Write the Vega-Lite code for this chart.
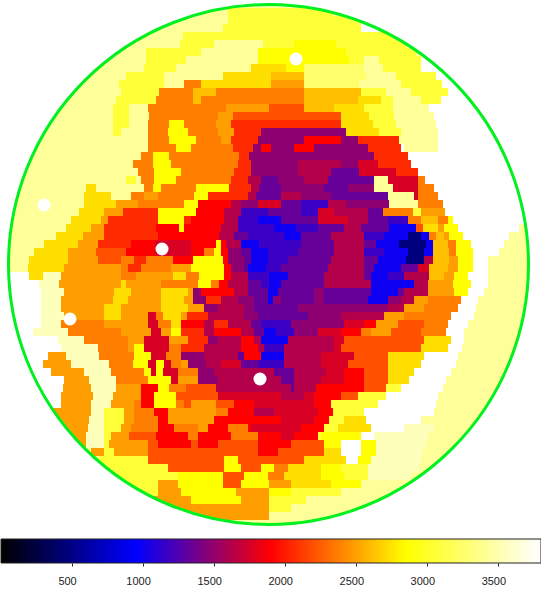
{"$schema":"https://vega.github.io/schema/vega-lite/v6.json","padding":0,"autosize":{"type":"pad"},"spacing":0,"background":"white","config":{"view":{"stroke":null}},
"datasets":{"disc":[{"x":267.5,"y":264.5,"v":3420}],
"holes":[{"x":43,"y":205},{"x":69,"y":319},{"x":161,"y":249},{"x":259,"y":379},{"x":295,"y":59}],
"cells":[
{"y":12,"x":227,"x2":332,"v":3060},
{"y":20,"x":227,"x2":358,"v":3060},
{"y":28,"x":222,"x2":360,"v":3060},{"y":28,"x":360,"x2":378,"v":3800},
{"y":36,"x":182,"x2":392,"v":3060},
{"y":44,"x":179,"x2":213,"v":3060},{"y":44,"x":262,"x2":293,"v":3060},{"y":44,"x":293,"x2":335,"v":2850},{"y":44,"x":335,"x2":405,"v":3060},
{"y":52,"x":145,"x2":200,"v":3060},{"y":52,"x":257,"x2":345,"v":2850},{"y":52,"x":345,"x2":415,"v":3060},
{"y":60,"x":145,"x2":185,"v":3060},{"y":60,"x":257,"x2":348,"v":2850},{"y":60,"x":348,"x2":363,"v":3060},{"y":60,"x":378,"x2":420,"v":3060},{"y":60,"x":420,"x2":440,"v":3800},
{"y":68,"x":143,"x2":175,"v":3060},{"y":68,"x":250,"x2":285,"v":2730},{"y":68,"x":285,"x2":303,"v":2850},{"y":68,"x":303,"x2":363,"v":3250},{"y":68,"x":382,"x2":420,"v":3060},{"y":68,"x":420,"x2":445,"v":3800},
{"y":76,"x":125,"x2":163,"v":3060},{"y":76,"x":222,"x2":270,"v":2730},{"y":76,"x":270,"x2":303,"v":2610},{"y":76,"x":303,"x2":365,"v":3250},{"y":76,"x":395,"x2":435,"v":3060},{"y":76,"x":435,"x2":455,"v":3800},
{"y":84,"x":118,"x2":163,"v":3060},{"y":84,"x":183,"x2":200,"v":2370},{"y":84,"x":200,"x2":270,"v":2730},{"y":84,"x":270,"x2":303,"v":2490},{"y":84,"x":303,"x2":358,"v":3250},{"y":84,"x":400,"x2":441,"v":3060},{"y":84,"x":441,"x2":465,"v":3800},
{"y":92,"x":120,"x2":158,"v":3060},{"y":92,"x":158,"x2":192,"v":2370},{"y":92,"x":192,"x2":215,"v":2610},{"y":92,"x":215,"x2":303,"v":2370},{"y":92,"x":303,"x2":360,"v":2610},{"y":92,"x":360,"x2":385,"v":3060},{"y":92,"x":410,"x2":447,"v":3060},{"y":92,"x":447,"x2":475,"v":3800},
{"y":100,"x":115,"x2":155,"v":3060},{"y":100,"x":155,"x2":192,"v":2370},{"y":100,"x":192,"x2":200,"v":2610},{"y":100,"x":200,"x2":303,"v":2370},{"y":100,"x":303,"x2":357,"v":2610},{"y":100,"x":357,"x2":380,"v":2730},{"y":100,"x":380,"x2":392,"v":3060},{"y":100,"x":420,"x2":440,"v":3060},{"y":100,"x":440,"x2":480,"v":3800},
{"y":108,"x":112,"x2":128,"v":3060},{"y":108,"x":147,"x2":225,"v":2370},{"y":108,"x":225,"x2":268,"v":2490},{"y":108,"x":268,"x2":303,"v":2200},{"y":108,"x":303,"x2":333,"v":2610},{"y":108,"x":333,"x2":363,"v":2730},{"y":108,"x":363,"x2":392,"v":3060},{"y":108,"x":428,"x2":485,"v":3800},
{"y":116,"x":112,"x2":128,"v":3060},{"y":116,"x":148,"x2":217,"v":2370},{"y":116,"x":217,"x2":232,"v":2490},{"y":116,"x":232,"x2":340,"v":2200},{"y":116,"x":340,"x2":368,"v":2730},{"y":116,"x":368,"x2":393,"v":3060},{"y":116,"x":433,"x2":490,"v":3800},
{"y":124,"x":112,"x2":128,"v":3060},{"y":124,"x":147,"x2":168,"v":2370},{"y":124,"x":168,"x2":183,"v":2850},{"y":124,"x":183,"x2":215,"v":2370},{"y":124,"x":215,"x2":230,"v":2490},{"y":124,"x":230,"x2":340,"v":2060},{"y":124,"x":340,"x2":372,"v":2730},{"y":124,"x":372,"x2":395,"v":3060},{"y":124,"x":435,"x2":495,"v":3800},
{"y":132,"x":112,"x2":120,"v":3060},{"y":132,"x":147,"x2":167,"v":2370},{"y":132,"x":167,"x2":187,"v":2850},{"y":132,"x":187,"x2":217,"v":2370},{"y":132,"x":217,"x2":233,"v":2490},{"y":132,"x":233,"x2":260,"v":2060},{"y":132,"x":260,"x2":345,"v":1480},{"y":132,"x":345,"x2":378,"v":2730},{"y":132,"x":378,"x2":400,"v":3060},{"y":132,"x":437,"x2":500,"v":3800},
{"y":140,"x":147,"x2":168,"v":2370},{"y":140,"x":168,"x2":195,"v":2850},{"y":140,"x":195,"x2":220,"v":2370},{"y":140,"x":220,"x2":230,"v":2490},{"y":140,"x":230,"x2":257,"v":2060},{"y":140,"x":257,"x2":303,"v":1480},{"y":140,"x":303,"x2":340,"v":1900},{"y":140,"x":340,"x2":357,"v":1480},{"y":140,"x":357,"x2":398,"v":2060},{"y":140,"x":437,"x2":505,"v":3800},
{"y":148,"x":147,"x2":175,"v":2370},{"y":148,"x":175,"x2":190,"v":2850},{"y":148,"x":190,"x2":232,"v":2370},{"y":148,"x":232,"x2":252,"v":2060},{"y":148,"x":252,"x2":260,"v":1480},{"y":148,"x":260,"x2":270,"v":1900},{"y":148,"x":270,"x2":293,"v":1480},{"y":148,"x":293,"x2":313,"v":1900},{"y":148,"x":313,"x2":367,"v":1480},{"y":148,"x":367,"x2":400,"v":2060},{"y":148,"x":400,"x2":403,"v":3800},{"y":148,"x":437,"x2":510,"v":3800},
{"y":156,"x":140,"x2":152,"v":2370},{"y":156,"x":152,"x2":168,"v":2850},{"y":156,"x":168,"x2":238,"v":2370},{"y":156,"x":238,"x2":248,"v":2060},{"y":156,"x":248,"x2":373,"v":1480},{"y":156,"x":373,"x2":407,"v":2060},{"y":156,"x":407,"x2":510,"v":3800},
{"y":164,"x":132,"x2":152,"v":2370},{"y":164,"x":152,"x2":170,"v":2850},{"y":164,"x":170,"x2":237,"v":2370},{"y":164,"x":237,"x2":250,"v":2060},{"y":164,"x":250,"x2":297,"v":1480},{"y":164,"x":297,"x2":340,"v":1620},{"y":164,"x":340,"x2":357,"v":1480},{"y":164,"x":357,"x2":377,"v":1760},{"y":164,"x":377,"x2":410,"v":2060},{"y":164,"x":410,"x2":515,"v":3800},
{"y":172,"x":137,"x2":153,"v":2370},{"y":172,"x":153,"x2":180,"v":2850},{"y":172,"x":180,"x2":233,"v":2370},{"y":172,"x":233,"x2":250,"v":2060},{"y":172,"x":250,"x2":297,"v":1480},{"y":172,"x":297,"x2":330,"v":1620},{"y":172,"x":330,"x2":358,"v":1330},{"y":172,"x":358,"x2":395,"v":1760},{"y":172,"x":395,"x2":417,"v":2060},{"y":172,"x":417,"x2":518,"v":3800},
{"y":180,"x":125,"x2":135,"v":3060},{"y":180,"x":140,"x2":153,"v":2370},{"y":180,"x":153,"x2":175,"v":2850},{"y":180,"x":175,"x2":230,"v":2370},{"y":180,"x":230,"x2":247,"v":2060},{"y":180,"x":247,"x2":260,"v":1620},{"y":180,"x":260,"x2":277,"v":1330},{"y":180,"x":277,"x2":303,"v":1480},{"y":180,"x":303,"x2":327,"v":1620},{"y":180,"x":327,"x2":373,"v":1330},{"y":180,"x":387,"x2":417,"v":1760},{"y":180,"x":417,"x2":424,"v":2370},{"y":180,"x":424,"x2":520,"v":3800},
{"y":188,"x":85,"x2":95,"v":2730},{"y":188,"x":143,"x2":152,"v":2370},{"y":188,"x":152,"x2":160,"v":2850},{"y":188,"x":160,"x2":195,"v":2370},{"y":188,"x":195,"x2":228,"v":2850},{"y":188,"x":228,"x2":250,"v":2060},{"y":188,"x":250,"x2":258,"v":1620},{"y":188,"x":258,"x2":280,"v":1330},{"y":188,"x":280,"x2":323,"v":1480},{"y":188,"x":323,"x2":347,"v":1330},{"y":188,"x":347,"x2":373,"v":1480},{"y":188,"x":392,"x2":417,"v":1760},{"y":188,"x":417,"x2":433,"v":2370},{"y":188,"x":433,"x2":522,"v":3800},
{"y":196,"x":83,"x2":110,"v":2730},{"y":196,"x":130,"x2":143,"v":2370},{"y":196,"x":143,"x2":157,"v":2490},{"y":196,"x":157,"x2":193,"v":2370},{"y":196,"x":193,"x2":207,"v":2850},{"y":196,"x":207,"x2":247,"v":2060},{"y":196,"x":247,"x2":255,"v":1620},{"y":196,"x":255,"x2":280,"v":1330},{"y":196,"x":280,"x2":300,"v":1620},{"y":196,"x":300,"x2":330,"v":1480},{"y":196,"x":330,"x2":387,"v":1330},{"y":196,"x":413,"x2":417,"v":1760},{"y":196,"x":417,"x2":437,"v":2370},{"y":196,"x":437,"x2":525,"v":3800},
{"y":204,"x":83,"x2":115,"v":2730},{"y":204,"x":115,"x2":137,"v":2490},{"y":204,"x":137,"x2":183,"v":2370},{"y":204,"x":183,"x2":197,"v":2850},{"y":204,"x":197,"x2":230,"v":1900},{"y":204,"x":230,"x2":240,"v":1620},{"y":204,"x":240,"x2":257,"v":1480},{"y":204,"x":257,"x2":280,"v":1760},{"y":204,"x":280,"x2":300,"v":1330},{"y":204,"x":300,"x2":327,"v":1170},{"y":204,"x":327,"x2":345,"v":1620},{"y":204,"x":345,"x2":388,"v":1480},{"y":204,"x":417,"x2":442,"v":2370},{"y":204,"x":442,"x2":525,"v":3800},
{"y":212,"x":78,"x2":103,"v":2730},{"y":212,"x":103,"x2":122,"v":2490},{"y":212,"x":122,"x2":157,"v":2060},{"y":212,"x":157,"x2":195,"v":2850},{"y":212,"x":195,"x2":223,"v":1900},{"y":212,"x":223,"x2":240,"v":1620},{"y":212,"x":240,"x2":267,"v":1170},{"y":212,"x":267,"x2":300,"v":1330},{"y":212,"x":300,"x2":317,"v":1170},{"y":212,"x":317,"x2":333,"v":1760},{"y":212,"x":333,"x2":367,"v":1620},{"y":212,"x":367,"x2":382,"v":1330},{"y":212,"x":382,"x2":412,"v":2370},{"y":212,"x":412,"x2":420,"v":3060},{"y":212,"x":420,"x2":444,"v":2490},{"y":212,"x":444,"x2":525,"v":3800},
{"y":220,"x":70,"x2":100,"v":2730},{"y":220,"x":100,"x2":107,"v":2490},{"y":220,"x":107,"x2":157,"v":2060},{"y":220,"x":157,"x2":183,"v":2850},{"y":220,"x":183,"x2":190,"v":2060},{"y":220,"x":190,"x2":223,"v":1900},{"y":220,"x":223,"x2":237,"v":1620},{"y":220,"x":237,"x2":257,"v":1170},{"y":220,"x":257,"x2":280,"v":1000},{"y":220,"x":280,"x2":317,"v":1330},{"y":220,"x":317,"x2":347,"v":1760},{"y":220,"x":347,"x2":367,"v":1620},{"y":220,"x":367,"x2":387,"v":1330},{"y":220,"x":387,"x2":407,"v":1170},{"y":220,"x":407,"x2":420,"v":2370},{"y":220,"x":420,"x2":437,"v":2610},{"y":220,"x":437,"x2":447,"v":2370},{"y":220,"x":447,"x2":452,"v":2850},{"y":220,"x":452,"x2":528,"v":3800},
{"y":228,"x":65,"x2":90,"v":2730},{"y":228,"x":90,"x2":103,"v":2490},{"y":228,"x":103,"x2":155,"v":2060},{"y":228,"x":155,"x2":178,"v":1900},{"y":228,"x":178,"x2":183,"v":2850},{"y":228,"x":183,"x2":220,"v":1900},{"y":228,"x":220,"x2":237,"v":1620},{"y":228,"x":237,"x2":273,"v":1170},{"y":228,"x":273,"x2":295,"v":1000},{"y":228,"x":295,"x2":317,"v":1170},{"y":228,"x":317,"x2":343,"v":1330},{"y":228,"x":343,"x2":360,"v":1620},{"y":228,"x":360,"x2":388,"v":1330},{"y":228,"x":388,"x2":415,"v":1000},{"y":228,"x":415,"x2":422,"v":2200},{"y":228,"x":422,"x2":437,"v":2730},{"y":228,"x":437,"x2":443,"v":2490},{"y":228,"x":443,"x2":457,"v":2850},{"y":228,"x":457,"x2":518,"v":3800},
{"y":236,"x":55,"x2":82,"v":2730},{"y":236,"x":82,"x2":103,"v":2490},{"y":236,"x":103,"x2":157,"v":2060},{"y":236,"x":157,"x2":218,"v":1900},{"y":236,"x":218,"x2":233,"v":1620},{"y":236,"x":233,"x2":247,"v":1330},{"y":236,"x":247,"x2":283,"v":1170},{"y":236,"x":283,"x2":300,"v":1000},{"y":236,"x":300,"x2":330,"v":1330},{"y":236,"x":330,"x2":363,"v":1620},{"y":236,"x":363,"x2":383,"v":1170},{"y":236,"x":383,"x2":407,"v":1000},{"y":236,"x":407,"x2":420,"v":470},{"y":236,"x":420,"x2":428,"v":1000},{"y":236,"x":428,"x2":435,"v":2370},{"y":236,"x":435,"x2":443,"v":2610},{"y":236,"x":443,"x2":448,"v":2490},{"y":236,"x":448,"x2":462,"v":2850},{"y":236,"x":462,"x2":508,"v":3800},
{"y":244,"x":43,"x2":77,"v":2730},{"y":244,"x":77,"x2":97,"v":2490},{"y":244,"x":97,"x2":130,"v":2060},{"y":244,"x":130,"x2":154,"v":1900},{"y":244,"x":154,"x2":190,"v":1760},{"y":244,"x":190,"x2":215,"v":1900},{"y":244,"x":215,"x2":220,"v":2850},{"y":244,"x":220,"x2":225,"v":1900},{"y":244,"x":225,"x2":240,"v":1620},{"y":244,"x":240,"x2":258,"v":1000},{"y":244,"x":258,"x2":300,"v":1170},{"y":244,"x":300,"x2":333,"v":1330},{"y":244,"x":333,"x2":363,"v":1620},{"y":244,"x":363,"x2":375,"v":1330},{"y":244,"x":375,"x2":398,"v":1000},{"y":244,"x":398,"x2":425,"v":470},{"y":244,"x":425,"x2":432,"v":1000},{"y":244,"x":432,"x2":447,"v":2610},{"y":244,"x":447,"x2":455,"v":2370},{"y":244,"x":455,"x2":470,"v":2850},{"y":244,"x":470,"x2":503,"v":3800},
{"y":252,"x":33,"x2":67,"v":2730},{"y":252,"x":67,"x2":95,"v":2490},{"y":252,"x":95,"x2":125,"v":2200},{"y":252,"x":125,"x2":154,"v":1900},{"y":252,"x":154,"x2":190,"v":1760},{"y":252,"x":190,"x2":203,"v":1900},{"y":252,"x":203,"x2":213,"v":2370},{"y":252,"x":213,"x2":220,"v":2850},{"y":252,"x":220,"x2":227,"v":1900},{"y":252,"x":227,"x2":240,"v":1480},{"y":252,"x":240,"x2":250,"v":1330},{"y":252,"x":250,"x2":267,"v":1000},{"y":252,"x":267,"x2":297,"v":1170},{"y":252,"x":297,"x2":333,"v":1330},{"y":252,"x":333,"x2":363,"v":1620},{"y":252,"x":363,"x2":383,"v":1170},{"y":252,"x":383,"x2":407,"v":1000},{"y":252,"x":407,"x2":423,"v":470},{"y":252,"x":423,"x2":432,"v":1000},{"y":252,"x":432,"x2":448,"v":2610},{"y":252,"x":448,"x2":455,"v":2370},{"y":252,"x":455,"x2":472,"v":2850},{"y":252,"x":472,"x2":498,"v":3800},
{"y":260,"x":28,"x2":67,"v":2730},{"y":260,"x":67,"x2":97,"v":2490},{"y":260,"x":97,"x2":120,"v":2200},{"y":260,"x":120,"x2":133,"v":2370},{"y":260,"x":133,"x2":145,"v":2060},{"y":260,"x":145,"x2":172,"v":2370},{"y":260,"x":172,"x2":192,"v":1900},{"y":260,"x":192,"x2":222,"v":2850},{"y":260,"x":222,"x2":227,"v":1900},{"y":260,"x":227,"x2":243,"v":1480},{"y":260,"x":243,"x2":250,"v":1330},{"y":260,"x":250,"x2":267,"v":1000},{"y":260,"x":267,"x2":287,"v":1170},{"y":260,"x":287,"x2":330,"v":1330},{"y":260,"x":330,"x2":363,"v":1620},{"y":260,"x":363,"x2":377,"v":1330},{"y":260,"x":377,"x2":405,"v":1000},{"y":260,"x":405,"x2":423,"v":470},{"y":260,"x":423,"x2":432,"v":1620},{"y":260,"x":432,"x2":448,"v":2610},{"y":260,"x":448,"x2":457,"v":2490},{"y":260,"x":457,"x2":472,"v":2850},{"y":260,"x":472,"x2":487,"v":3800},
{"y":268,"x":27,"x2":63,"v":2730},{"y":268,"x":63,"x2":120,"v":2490},{"y":268,"x":120,"x2":127,"v":2370},{"y":268,"x":127,"x2":140,"v":2060},{"y":268,"x":140,"x2":170,"v":2370},{"y":268,"x":170,"x2":190,"v":2490},{"y":268,"x":190,"x2":223,"v":2850},{"y":268,"x":223,"x2":230,"v":1900},{"y":268,"x":230,"x2":243,"v":1480},{"y":268,"x":243,"x2":247,"v":1330},{"y":268,"x":247,"x2":265,"v":1000},{"y":268,"x":265,"x2":280,"v":1170},{"y":268,"x":280,"x2":327,"v":1330},{"y":268,"x":327,"x2":363,"v":1620},{"y":268,"x":363,"x2":373,"v":1330},{"y":268,"x":373,"x2":400,"v":1000},{"y":268,"x":400,"x2":417,"v":1330},{"y":268,"x":417,"x2":428,"v":1760},{"y":268,"x":428,"x2":447,"v":2610},{"y":268,"x":447,"x2":457,"v":2490},{"y":268,"x":457,"x2":472,"v":2850},{"y":268,"x":472,"x2":487,"v":3800},
{"y":276,"x":0,"x2":28,"v":3800},{"y":276,"x":28,"x2":42,"v":2730},{"y":276,"x":42,"x2":60,"v":3550},{"y":276,"x":60,"x2":120,"v":2490},{"y":276,"x":120,"x2":135,"v":2370},{"y":276,"x":135,"x2":172,"v":2490},{"y":276,"x":172,"x2":185,"v":2730},{"y":276,"x":185,"x2":198,"v":2370},{"y":276,"x":198,"x2":223,"v":2850},{"y":276,"x":223,"x2":230,"v":1900},{"y":276,"x":230,"x2":247,"v":1620},{"y":276,"x":247,"x2":268,"v":1170},{"y":276,"x":268,"x2":287,"v":1000},{"y":276,"x":287,"x2":323,"v":1330},{"y":276,"x":323,"x2":363,"v":1620},{"y":276,"x":363,"x2":370,"v":1330},{"y":276,"x":370,"x2":387,"v":1000},{"y":276,"x":387,"x2":403,"v":1170},{"y":276,"x":403,"x2":428,"v":1620},{"y":276,"x":428,"x2":443,"v":2610},{"y":276,"x":443,"x2":453,"v":2490},{"y":276,"x":453,"x2":467,"v":2850},{"y":276,"x":467,"x2":487,"v":3800},
{"y":284,"x":0,"x2":38,"v":3800},{"y":284,"x":38,"x2":58,"v":3550},{"y":284,"x":58,"x2":120,"v":2490},{"y":284,"x":120,"x2":125,"v":2730},{"y":284,"x":125,"x2":160,"v":2490},{"y":284,"x":160,"x2":197,"v":2370},{"y":284,"x":197,"x2":210,"v":2850},{"y":284,"x":210,"x2":218,"v":2370},{"y":284,"x":218,"x2":227,"v":1900},{"y":284,"x":227,"x2":247,"v":1620},{"y":284,"x":247,"x2":260,"v":1330},{"y":284,"x":260,"x2":268,"v":1170},{"y":284,"x":268,"x2":280,"v":1000},{"y":284,"x":280,"x2":323,"v":1330},{"y":284,"x":323,"x2":370,"v":1620},{"y":284,"x":370,"x2":413,"v":1000},{"y":284,"x":413,"x2":427,"v":1620},{"y":284,"x":427,"x2":452,"v":2490},{"y":284,"x":452,"x2":470,"v":2850},{"y":284,"x":470,"x2":487,"v":3800},
{"y":292,"x":0,"x2":40,"v":3800},{"y":292,"x":40,"x2":63,"v":3550},{"y":292,"x":63,"x2":113,"v":2490},{"y":292,"x":113,"x2":130,"v":2730},{"y":292,"x":130,"x2":160,"v":2490},{"y":292,"x":160,"x2":187,"v":2730},{"y":292,"x":187,"x2":192,"v":2490},{"y":292,"x":192,"x2":200,"v":1480},{"y":292,"x":200,"x2":233,"v":1900},{"y":292,"x":233,"x2":247,"v":1620},{"y":292,"x":247,"x2":267,"v":1330},{"y":292,"x":267,"x2":277,"v":1000},{"y":292,"x":277,"x2":313,"v":1330},{"y":292,"x":313,"x2":323,"v":1480},{"y":292,"x":323,"x2":370,"v":1330},{"y":292,"x":370,"x2":397,"v":1000},{"y":292,"x":397,"x2":403,"v":1330},{"y":292,"x":403,"x2":427,"v":1620},{"y":292,"x":427,"x2":453,"v":2490},{"y":292,"x":453,"x2":467,"v":2850},{"y":292,"x":467,"x2":483,"v":3800},
{"y":300,"x":0,"x2":40,"v":3800},{"y":300,"x":40,"x2":60,"v":3550},{"y":300,"x":60,"x2":112,"v":2490},{"y":300,"x":112,"x2":127,"v":2730},{"y":300,"x":127,"x2":160,"v":2490},{"y":300,"x":160,"x2":183,"v":2730},{"y":300,"x":183,"x2":192,"v":2490},{"y":300,"x":192,"x2":205,"v":1480},{"y":300,"x":205,"x2":220,"v":2060},{"y":300,"x":220,"x2":237,"v":1620},{"y":300,"x":237,"x2":253,"v":1480},{"y":300,"x":253,"x2":267,"v":1330},{"y":300,"x":267,"x2":272,"v":1000},{"y":300,"x":272,"x2":280,"v":1480},{"y":300,"x":280,"x2":313,"v":1330},{"y":300,"x":313,"x2":323,"v":1480},{"y":300,"x":323,"x2":367,"v":1330},{"y":300,"x":367,"x2":387,"v":1000},{"y":300,"x":387,"x2":400,"v":1480},{"y":300,"x":400,"x2":413,"v":1620},{"y":300,"x":413,"x2":427,"v":2490},{"y":300,"x":427,"x2":460,"v":2370},{"y":300,"x":460,"x2":477,"v":3800},
{"y":308,"x":0,"x2":40,"v":3800},{"y":308,"x":40,"x2":60,"v":3550},{"y":308,"x":60,"x2":103,"v":2490},{"y":308,"x":103,"x2":120,"v":2730},{"y":308,"x":120,"x2":160,"v":2490},{"y":308,"x":160,"x2":187,"v":2730},{"y":308,"x":187,"x2":203,"v":2490},{"y":308,"x":203,"x2":217,"v":1480},{"y":308,"x":217,"x2":243,"v":1620},{"y":308,"x":243,"x2":253,"v":1480},{"y":308,"x":253,"x2":297,"v":1330},{"y":308,"x":297,"x2":387,"v":1480},{"y":308,"x":387,"x2":403,"v":1620},{"y":308,"x":403,"x2":423,"v":2490},{"y":308,"x":423,"x2":457,"v":2370},{"y":308,"x":457,"x2":475,"v":3800},
{"y":316,"x":0,"x2":40,"v":3800},{"y":316,"x":40,"x2":63,"v":3550},{"y":316,"x":63,"x2":103,"v":2490},{"y":316,"x":103,"x2":120,"v":2730},{"y":316,"x":120,"x2":147,"v":2490},{"y":316,"x":147,"x2":155,"v":1760},{"y":316,"x":155,"x2":162,"v":2370},{"y":316,"x":162,"x2":180,"v":2730},{"y":316,"x":180,"x2":186,"v":2490},{"y":316,"x":186,"x2":207,"v":2060},{"y":316,"x":207,"x2":243,"v":1620},{"y":316,"x":243,"x2":257,"v":1480},{"y":316,"x":257,"x2":307,"v":1330},{"y":316,"x":307,"x2":340,"v":1480},{"y":316,"x":340,"x2":383,"v":1620},{"y":316,"x":383,"x2":403,"v":2490},{"y":316,"x":403,"x2":450,"v":2370},{"y":316,"x":450,"x2":473,"v":3800},
{"y":324,"x":0,"x2":40,"v":3800},{"y":324,"x":40,"x2":60,"v":3550},{"y":324,"x":60,"x2":103,"v":2370},{"y":324,"x":103,"x2":147,"v":2490},{"y":324,"x":147,"x2":157,"v":1760},{"y":324,"x":157,"x2":170,"v":2370},{"y":324,"x":170,"x2":180,"v":2730},{"y":324,"x":180,"x2":203,"v":1900},{"y":324,"x":203,"x2":213,"v":1620},{"y":324,"x":213,"x2":227,"v":2060},{"y":324,"x":227,"x2":250,"v":1620},{"y":324,"x":250,"x2":260,"v":1330},{"y":324,"x":260,"x2":290,"v":1170},{"y":324,"x":290,"x2":343,"v":1480},{"y":324,"x":343,"x2":363,"v":1760},{"y":324,"x":363,"x2":375,"v":1900},{"y":324,"x":375,"x2":397,"v":2490},{"y":324,"x":397,"x2":423,"v":2200},{"y":324,"x":423,"x2":447,"v":2370},{"y":324,"x":447,"x2":467,"v":3800},
{"y":332,"x":0,"x2":32,"v":3800},{"y":332,"x":32,"x2":67,"v":3550},{"y":332,"x":67,"x2":120,"v":2370},{"y":332,"x":120,"x2":150,"v":2490},{"y":332,"x":150,"x2":160,"v":1760},{"y":332,"x":160,"x2":170,"v":2490},{"y":332,"x":170,"x2":180,"v":2850},{"y":332,"x":180,"x2":203,"v":2060},{"y":332,"x":203,"x2":213,"v":1620},{"y":332,"x":213,"x2":240,"v":1900},{"y":332,"x":240,"x2":253,"v":1620},{"y":332,"x":253,"x2":263,"v":1330},{"y":332,"x":263,"x2":275,"v":1000},{"y":332,"x":275,"x2":293,"v":1170},{"y":332,"x":293,"x2":317,"v":1480},{"y":332,"x":317,"x2":340,"v":1760},{"y":332,"x":340,"x2":360,"v":1900},{"y":332,"x":360,"x2":370,"v":2370},{"y":332,"x":370,"x2":390,"v":2490},{"y":332,"x":390,"x2":420,"v":2200},{"y":332,"x":420,"x2":445,"v":2370},{"y":332,"x":445,"x2":463,"v":3800},
{"y":340,"x":0,"x2":57,"v":3800},{"y":340,"x":57,"x2":83,"v":3550},{"y":340,"x":83,"x2":127,"v":2370},{"y":340,"x":127,"x2":143,"v":2490},{"y":340,"x":143,"x2":168,"v":1760},{"y":340,"x":168,"x2":187,"v":2490},{"y":340,"x":187,"x2":207,"v":2060},{"y":340,"x":207,"x2":217,"v":1480},{"y":340,"x":217,"x2":240,"v":1620},{"y":340,"x":240,"x2":253,"v":1900},{"y":340,"x":253,"x2":260,"v":1620},{"y":340,"x":260,"x2":287,"v":1000},{"y":340,"x":287,"x2":333,"v":1620},{"y":340,"x":333,"x2":343,"v":1760},{"y":340,"x":343,"x2":423,"v":2200},{"y":340,"x":423,"x2":450,"v":2730},{"y":340,"x":450,"x2":463,"v":3800},
{"y":348,"x":0,"x2":60,"v":3800},{"y":348,"x":60,"x2":97,"v":3550},{"y":348,"x":97,"x2":127,"v":2370},{"y":348,"x":127,"x2":133,"v":2490},{"y":348,"x":133,"x2":143,"v":2850},{"y":348,"x":143,"x2":168,"v":1760},{"y":348,"x":168,"x2":180,"v":2370},{"y":348,"x":180,"x2":203,"v":2060},{"y":348,"x":203,"x2":240,"v":1620},{"y":348,"x":240,"x2":257,"v":1900},{"y":348,"x":257,"x2":263,"v":1620},{"y":348,"x":263,"x2":283,"v":1170},{"y":348,"x":283,"x2":333,"v":1620},{"y":348,"x":333,"x2":340,"v":1760},{"y":348,"x":340,"x2":420,"v":2200},{"y":348,"x":420,"x2":447,"v":2730},{"y":348,"x":447,"x2":461,"v":3800},
{"y":356,"x":0,"x2":47,"v":3800},{"y":356,"x":47,"x2":65,"v":2490},{"y":356,"x":65,"x2":98,"v":3550},{"y":356,"x":98,"x2":133,"v":2370},{"y":356,"x":133,"x2":150,"v":2850},{"y":356,"x":150,"x2":165,"v":1760},{"y":356,"x":165,"x2":180,"v":2370},{"y":356,"x":180,"x2":203,"v":1480},{"y":356,"x":203,"x2":237,"v":1620},{"y":356,"x":237,"x2":243,"v":1330},{"y":356,"x":243,"x2":260,"v":1900},{"y":356,"x":260,"x2":283,"v":1000},{"y":356,"x":283,"x2":320,"v":1620},{"y":356,"x":320,"x2":353,"v":1760},{"y":356,"x":353,"x2":387,"v":2200},{"y":356,"x":387,"x2":423,"v":2730},{"y":356,"x":423,"x2":457,"v":3800},
{"y":364,"x":0,"x2":42,"v":3800},{"y":364,"x":42,"x2":70,"v":2490},{"y":364,"x":70,"x2":108,"v":3550},{"y":364,"x":108,"x2":132,"v":2370},{"y":364,"x":132,"x2":147,"v":2850},{"y":364,"x":147,"x2":155,"v":1760},{"y":364,"x":155,"x2":163,"v":2850},{"y":364,"x":163,"x2":170,"v":1760},{"y":364,"x":170,"x2":180,"v":2370},{"y":364,"x":180,"x2":187,"v":2490},{"y":364,"x":187,"x2":205,"v":1480},{"y":364,"x":205,"x2":220,"v":1620},{"y":364,"x":220,"x2":240,"v":1760},{"y":364,"x":240,"x2":258,"v":1330},{"y":364,"x":258,"x2":283,"v":1170},{"y":364,"x":283,"x2":320,"v":1620},{"y":364,"x":320,"x2":347,"v":1760},{"y":364,"x":347,"x2":387,"v":2200},{"y":364,"x":387,"x2":420,"v":2730},{"y":364,"x":420,"x2":455,"v":3800},
{"y":372,"x":0,"x2":50,"v":3800},{"y":372,"x":50,"x2":83,"v":2490},{"y":372,"x":83,"x2":110,"v":3550},{"y":372,"x":110,"x2":143,"v":2370},{"y":372,"x":143,"x2":150,"v":2850},{"y":372,"x":150,"x2":155,"v":1760},{"y":372,"x":155,"x2":162,"v":2850},{"y":372,"x":162,"x2":177,"v":1760},{"y":372,"x":177,"x2":197,"v":2370},{"y":372,"x":197,"x2":213,"v":1480},{"y":372,"x":213,"x2":273,"v":1620},{"y":372,"x":273,"x2":293,"v":1330},{"y":372,"x":293,"x2":325,"v":1620},{"y":372,"x":325,"x2":343,"v":1760},{"y":372,"x":343,"x2":363,"v":1900},{"y":372,"x":363,"x2":387,"v":2200},{"y":372,"x":387,"x2":413,"v":2730},{"y":372,"x":413,"x2":450,"v":3800},
{"y":380,"x":0,"x2":63,"v":3800},{"y":380,"x":63,"x2":88,"v":2490},{"y":380,"x":88,"x2":115,"v":3550},{"y":380,"x":115,"x2":147,"v":2370},{"y":380,"x":147,"x2":170,"v":2850},{"y":380,"x":170,"x2":177,"v":1760},{"y":380,"x":177,"x2":197,"v":2490},{"y":380,"x":197,"x2":217,"v":1480},{"y":380,"x":217,"x2":280,"v":1620},{"y":380,"x":280,"x2":293,"v":1330},{"y":380,"x":293,"x2":320,"v":1620},{"y":380,"x":320,"x2":343,"v":1760},{"y":380,"x":343,"x2":363,"v":1900},{"y":380,"x":363,"x2":387,"v":2200},{"y":380,"x":387,"x2":408,"v":2730},{"y":380,"x":408,"x2":445,"v":3800},
{"y":388,"x":0,"x2":62,"v":3800},{"y":388,"x":62,"x2":90,"v":2490},{"y":388,"x":90,"x2":115,"v":3550},{"y":388,"x":115,"x2":140,"v":2490},{"y":388,"x":140,"x2":157,"v":1900},{"y":388,"x":157,"x2":168,"v":2850},{"y":388,"x":168,"x2":185,"v":2370},{"y":388,"x":185,"x2":215,"v":2200},{"y":388,"x":215,"x2":290,"v":1620},{"y":388,"x":290,"x2":293,"v":1330},{"y":388,"x":293,"x2":315,"v":1620},{"y":388,"x":315,"x2":363,"v":1900},{"y":388,"x":363,"x2":385,"v":2200},{"y":388,"x":385,"x2":400,"v":3060},{"y":388,"x":400,"x2":442,"v":3800},
{"y":396,"x":0,"x2":60,"v":3800},{"y":396,"x":60,"x2":92,"v":2490},{"y":396,"x":92,"x2":112,"v":3550},{"y":396,"x":112,"x2":140,"v":2490},{"y":396,"x":140,"x2":153,"v":1900},{"y":396,"x":153,"x2":175,"v":2850},{"y":396,"x":175,"x2":217,"v":2200},{"y":396,"x":217,"x2":280,"v":1760},{"y":396,"x":280,"x2":303,"v":1620},{"y":396,"x":303,"x2":313,"v":1760},{"y":396,"x":313,"x2":340,"v":1900},{"y":396,"x":340,"x2":357,"v":2200},{"y":396,"x":357,"x2":385,"v":3060},{"y":396,"x":385,"x2":437,"v":3800},
{"y":404,"x":0,"x2":60,"v":3800},{"y":404,"x":60,"x2":90,"v":2490},{"y":404,"x":90,"x2":110,"v":3550},{"y":404,"x":110,"x2":133,"v":2490},{"y":404,"x":133,"x2":140,"v":2370},{"y":404,"x":140,"x2":153,"v":1900},{"y":404,"x":153,"x2":175,"v":2850},{"y":404,"x":175,"x2":183,"v":2370},{"y":404,"x":183,"x2":190,"v":2200},{"y":404,"x":190,"x2":215,"v":2490},{"y":404,"x":215,"x2":233,"v":2200},{"y":404,"x":233,"x2":253,"v":1900},{"y":404,"x":253,"x2":313,"v":1760},{"y":404,"x":313,"x2":330,"v":1900},{"y":404,"x":330,"x2":377,"v":3060},{"y":404,"x":377,"x2":435,"v":3800},
{"y":412,"x":50,"x2":90,"v":2490},{"y":412,"x":90,"x2":103,"v":3550},{"y":412,"x":103,"x2":123,"v":3060},{"y":412,"x":123,"x2":133,"v":2490},{"y":412,"x":133,"x2":153,"v":2370},{"y":412,"x":153,"x2":167,"v":1900},{"y":412,"x":167,"x2":215,"v":2490},{"y":412,"x":215,"x2":227,"v":2370},{"y":412,"x":227,"x2":253,"v":1900},{"y":412,"x":253,"x2":273,"v":1620},{"y":412,"x":273,"x2":317,"v":1760},{"y":412,"x":317,"x2":332,"v":1900},{"y":412,"x":332,"x2":363,"v":3060},{"y":412,"x":363,"x2":433,"v":3800},
{"y":420,"x":55,"x2":88,"v":2490},{"y":420,"x":88,"x2":103,"v":3550},{"y":420,"x":103,"x2":123,"v":3060},{"y":420,"x":123,"x2":133,"v":2490},{"y":420,"x":133,"x2":157,"v":2370},{"y":420,"x":157,"x2":167,"v":1900},{"y":420,"x":167,"x2":213,"v":2490},{"y":420,"x":213,"x2":280,"v":1900},{"y":420,"x":280,"x2":313,"v":1760},{"y":420,"x":313,"x2":328,"v":1900},{"y":420,"x":328,"x2":343,"v":3060},{"y":420,"x":343,"x2":365,"v":2730},{"y":420,"x":365,"x2":420,"v":3800},
{"y":428,"x":62,"x2":87,"v":2490},{"y":428,"x":87,"x2":103,"v":3550},{"y":428,"x":103,"x2":120,"v":3060},{"y":428,"x":120,"x2":130,"v":2490},{"y":428,"x":130,"x2":157,"v":2370},{"y":428,"x":157,"x2":173,"v":1900},{"y":428,"x":173,"x2":197,"v":2370},{"y":428,"x":197,"x2":207,"v":2490},{"y":428,"x":207,"x2":227,"v":1900},{"y":428,"x":227,"x2":247,"v":2370},{"y":428,"x":247,"x2":250,"v":1900},{"y":428,"x":250,"x2":300,"v":1760},{"y":428,"x":300,"x2":323,"v":1900},{"y":428,"x":323,"x2":337,"v":3060},{"y":428,"x":337,"x2":370,"v":2730},{"y":428,"x":370,"x2":403,"v":3800},{"y":428,"x":403,"x2":433,"v":3550},
{"y":436,"x":68,"x2":85,"v":2490},{"y":436,"x":85,"x2":103,"v":3550},{"y":436,"x":103,"x2":110,"v":3060},{"y":436,"x":110,"x2":128,"v":2490},{"y":436,"x":128,"x2":155,"v":2200},{"y":436,"x":155,"x2":187,"v":1900},{"y":436,"x":187,"x2":197,"v":2370},{"y":436,"x":197,"x2":230,"v":1900},{"y":436,"x":230,"x2":257,"v":2370},{"y":436,"x":257,"x2":280,"v":1900},{"y":436,"x":280,"x2":293,"v":1760},{"y":436,"x":293,"x2":317,"v":1900},{"y":436,"x":317,"x2":320,"v":3060},{"y":436,"x":320,"x2":360,"v":2850},{"y":436,"x":360,"x2":373,"v":3800},{"y":436,"x":373,"x2":427,"v":3550},
{"y":444,"x":75,"x2":85,"v":2490},{"y":444,"x":85,"x2":103,"v":3550},{"y":444,"x":103,"x2":108,"v":3060},{"y":444,"x":108,"x2":147,"v":2490},{"y":444,"x":147,"x2":157,"v":2200},{"y":444,"x":157,"x2":190,"v":1900},{"y":444,"x":190,"x2":197,"v":2200},{"y":444,"x":197,"x2":217,"v":1900},{"y":444,"x":217,"x2":257,"v":2200},{"y":444,"x":257,"x2":290,"v":1900},{"y":444,"x":290,"x2":323,"v":2200},{"y":444,"x":323,"x2":340,"v":2850},{"y":444,"x":340,"x2":360,"v":3800},{"y":444,"x":360,"x2":375,"v":2850},{"y":444,"x":375,"x2":425,"v":3550},
{"y":452,"x":90,"x2":103,"v":2490},{"y":452,"x":103,"x2":113,"v":3060},{"y":452,"x":113,"x2":147,"v":2490},{"y":452,"x":147,"x2":257,"v":2200},{"y":452,"x":257,"x2":277,"v":1900},{"y":452,"x":277,"x2":323,"v":2200},{"y":452,"x":323,"x2":340,"v":2730},{"y":452,"x":340,"x2":360,"v":3800},{"y":452,"x":360,"x2":375,"v":2850},{"y":452,"x":375,"x2":422,"v":3550},
{"y":460,"x":98,"x2":147,"v":3060},{"y":460,"x":147,"x2":223,"v":2200},{"y":460,"x":223,"x2":237,"v":2850},{"y":460,"x":237,"x2":303,"v":2200},{"y":460,"x":303,"x2":345,"v":2730},{"y":460,"x":345,"x2":357,"v":3800},{"y":460,"x":357,"x2":370,"v":2850},{"y":460,"x":370,"x2":420,"v":3550},
{"y":468,"x":105,"x2":167,"v":3060},{"y":468,"x":167,"x2":223,"v":2200},{"y":468,"x":223,"x2":240,"v":2850},{"y":468,"x":240,"x2":260,"v":2200},{"y":468,"x":260,"x2":273,"v":2850},{"y":468,"x":273,"x2":287,"v":2370},{"y":468,"x":287,"x2":320,"v":2730},{"y":468,"x":320,"x2":340,"v":2850},{"y":468,"x":340,"x2":367,"v":3060},{"y":468,"x":367,"x2":418,"v":3550},
{"y":476,"x":112,"x2":177,"v":3060},{"y":476,"x":177,"x2":222,"v":2850},{"y":476,"x":222,"x2":243,"v":2200},{"y":476,"x":243,"x2":267,"v":2850},{"y":476,"x":267,"x2":283,"v":2370},{"y":476,"x":283,"x2":320,"v":2730},{"y":476,"x":320,"x2":343,"v":2850},{"y":476,"x":343,"x2":367,"v":3060},{"y":476,"x":367,"x2":410,"v":3550},
{"y":484,"x":125,"x2":157,"v":3060},{"y":484,"x":157,"x2":177,"v":2490},{"y":484,"x":177,"x2":222,"v":2850},{"y":484,"x":222,"x2":240,"v":2200},{"y":484,"x":240,"x2":268,"v":2850},{"y":484,"x":268,"x2":290,"v":2490},{"y":484,"x":290,"x2":330,"v":2730},{"y":484,"x":330,"x2":360,"v":2850},
{"y":492,"x":138,"x2":157,"v":3060},{"y":492,"x":157,"x2":180,"v":2490},{"y":492,"x":180,"x2":235,"v":2850},{"y":492,"x":235,"x2":268,"v":2490},{"y":492,"x":268,"x2":290,"v":2850},{"y":492,"x":290,"x2":340,"v":3060},
{"y":500,"x":150,"x2":190,"v":2490},{"y":500,"x":190,"x2":240,"v":2850},{"y":500,"x":240,"x2":268,"v":2490},{"y":500,"x":268,"x2":305,"v":3060},
{"y":508,"x":170,"x2":268,"v":2490},{"y":508,"x":268,"x2":290,"v":3060},
{"y":516,"x":195,"x2":268,"v":2490}
]},
"vconcat":[
{"width":541,"height":538,"layer":[
{"data":{"name":"disc"},"mark":{"type":"point","filled":true,"size":270400,"opacity":1,"clip":true},"encoding":{"x":{"field":"x","type":"quantitative","scale":{"domain":[0,541]},"axis":null},"y":{"field":"y","type":"quantitative","scale":{"domain":[0,538],"reverse":true},"axis":null},"color":{"field":"v","type":"quantitative","legend":null,"scale":{"interpolate":"rgb","domain":[0,950,1900,2850,3800],"range":["#000000","#0000ff","#ff0000","#ffff00","#ffffff"]}}}},
{"data":{"name":"cells"},"mark":{"type":"rect","height":8,"clip":true},"encoding":{"x":{"field":"x","type":"quantitative","scale":{"domain":[0,541]},"axis":null},"x2":{"field":"x2"},"y":{"field":"y","type":"quantitative","scale":{"domain":[0,538],"reverse":true},"axis":null},"color":{"field":"v","type":"quantitative","legend":null,"scale":{"interpolate":"rgb","domain":[0,950,1900,2850,3800],"range":["#000000","#0000ff","#ff0000","#ffff00","#ffffff"]}}}},
{"data":{"name":"holes"},"mark":{"type":"point","filled":true,"size":169,"color":"#ffffff","opacity":1},"encoding":{"x":{"field":"x","type":"quantitative","scale":{"domain":[0,541]},"axis":null},"y":{"field":"y","type":"quantitative","scale":{"domain":[0,538],"reverse":true},"axis":null}}},
{"data":{"name":"disc"},"mark":{"type":"point","filled":false,"size":285156,"stroke":"#ffffff","strokeWidth":12,"opacity":1,"clip":true},"encoding":{"x":{"field":"x","type":"quantitative","scale":{"domain":[0,541]},"axis":null},"y":{"field":"y","type":"quantitative","scale":{"domain":[0,538],"reverse":true},"axis":null}}},
{"data":{"name":"disc"},"mark":{"type":"point","filled":false,"size":270400,"stroke":"#00f020","strokeWidth":3,"opacity":1,"clip":true},"encoding":{"x":{"field":"x","type":"quantitative","scale":{"domain":[0,541]},"axis":null},"y":{"field":"y","type":"quantitative","scale":{"domain":[0,538],"reverse":true},"axis":null}}}
]},
{"width":540,"height":24,"data":{"values":[{"a":0,"b":3800}]},"mark":{"type":"rect","stroke":"#222222","strokeWidth":1,"color":{"gradient":"linear","x1":0,"x2":1,"y1":0,"y2":0,"stops":[{"offset":0,"color":"#000000"},{"offset":0.25,"color":"#0000ff"},{"offset":0.5,"color":"#ff0000"},{"offset":0.75,"color":"#ffff00"},{"offset":1,"color":"#ffffff"}]}},"encoding":{"x":{"field":"a","type":"quantitative","scale":{"domain":[0,3800]},"axis":{"title":null,"format":"d","values":[500,1000,1500,2000,2500,3000,3500],"grid":false,"domain":false,"tickSize":3,"tickColor":"#222222","labelOffset":-5,"labelPadding":9,"labelFont":"Liberation Sans","labelFontSize":11,"labelColor":"#222222","labelFlush":false}},"x2":{"field":"b"}}}
]}
